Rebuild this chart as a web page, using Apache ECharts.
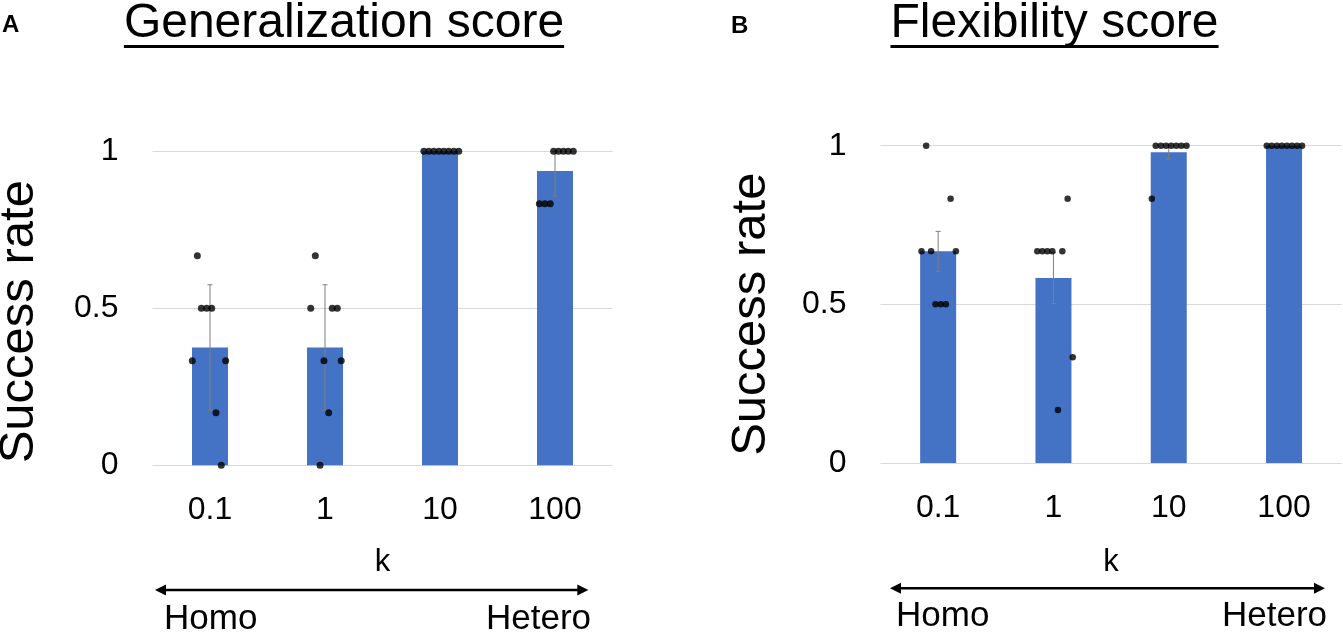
<!DOCTYPE html>
<html>
<head>
<meta charset="utf-8">
<script src="https://cdn.jsdelivr.net/npm/echarts@6/dist/echarts.min.js"></script>
<style>
html, body { margin: 0; padding: 0; background: #fff; }
#main { width: 1343px; height: 635px; }
</style>
</head>
<body>
<div id="main"></div>
<script>
var categories = ['0.1', '1', '10', '100'];

// A: generalization score (bar = mean, whisker = SD)
var genMean = [0.375, 0.375, 1, 0.9375];
var genErr = [0.2, 0.2, 0, 0.08];
var genDots = [
    [0.667, 0.5, 0.5, 0.5, 0.333, 0.333, 0.167, 0],
    [0.667, 0.5, 0.5, 0.5, 0.333, 0.333, 0.167, 0],
    [1, 1, 1, 1, 1, 1, 1, 1],
    [1, 1, 1, 1, 1, 0.833, 0.833, 0.833]
];
// horizontal spread of the dots, in category units
var genJitter = [
    [-0.110, -0.075, -0.029, 0.015, -0.154, 0.136, 0.052, 0.098],
    [-0.084, -0.124, 0.063, 0.107, -0.009, 0.141, 0.032, -0.043],
    [-0.140, -0.097, -0.054, -0.010, 0.033, 0.076, 0.120, 0.163],
    [-0.012, 0.030, 0.073, 0.115, 0.159, -0.136, -0.088, -0.041]
];

// B: flexibility score (bar = mean, whisker = SEM)
var flexMean = [0.667, 0.583, 0.979, 1];
var flexErr = [0.063, 0.08, 0.021, 0];
var flexDots = [
    [1, 0.833, 0.667, 0.667, 0.667, 0.5, 0.5, 0.5],
    [0.833, 0.667, 0.667, 0.667, 0.667, 0.667, 0.333, 0.167],
    [0.833, 1, 1, 1, 1, 1, 1, 1],
    [1, 1, 1, 1, 1, 1, 1, 1]
];
var flexJitter = [
    [-0.104, 0.108, -0.144, -0.061, 0.154, -0.023, 0.023, 0.067],
    [0.123, -0.140, -0.096, -0.053, -0.010, 0.077, 0.167, 0.039],
    [-0.147, -0.113, -0.068, -0.024, 0.021, 0.065, 0.109, 0.154],
    [-0.150, -0.107, -0.062, -0.019, 0.025, 0.069, 0.113, 0.156]
];

var FONT = '"Liberation Sans", Arial, sans-serif';
var BLUE = '#4472C4';

function dotPoints(dots, jitter) {
    var pts = [];
    dots.forEach(function (vals, i) {
        vals.forEach(function (v, j) {
            pts.push([i + 0.5 + jitter[i][j], v]);
        });
    });
    return pts;
}

function errPoints(mean, err) {
    return mean.map(function (m, i) {
        return [i + 0.5, m - err[i], Math.min(1, m + err[i])];
    });
}

function renderErr(params, api) {
    var x = api.value(0), lo = api.value(1), hi = api.value(2);
    if (hi - lo <= 0) return;
    var top = api.coord([x, hi]);
    var bot = api.coord([x, lo]);
    var cap = 2.5;
    var st = { stroke: '#7f7f7f', lineWidth: 1 };
    return {
        type: 'group',
        children: [
            { type: 'line', shape: { x1: top[0], y1: top[1], x2: bot[0], y2: bot[1] }, style: st },
            { type: 'line', shape: { x1: top[0] - cap, y1: top[1], x2: top[0] + cap, y2: top[1] }, style: st },
            { type: 'line', shape: { x1: bot[0] - cap, y1: bot[1], x2: bot[0] + cap, y2: bot[1] }, style: st }
        ]
    };
}

function textWidth(str, font) {
    var ctx = document.createElement('canvas').getContext('2d');
    ctx.font = font;
    return ctx.measureText(str).width;
}

function catAxis(gi, gap) {
    return {
        type: 'category',
        gridIndex: gi,
        data: categories,
        axisLine: { show: false },
        axisTick: { show: false },
        axisLabel: { color: '#000', fontSize: 32, fontFamily: FONT, margin: 29 },
        name: 'k',
        nameLocation: 'middle',
        nameGap: gap,
        nameTextStyle: { color: '#000', fontSize: 31, fontFamily: FONT }
    };
}

function posAxis(gi) {
    return { type: 'value', gridIndex: gi, min: 0, max: 4, show: false };
}

function valAxis(gi) {
    return {
        type: 'value',
        gridIndex: gi,
        min: 0,
        max: 1,
        interval: 0.5,
        axisLine: { show: false },
        axisTick: { show: false },
        axisLabel: { color: '#000', fontSize: 32, fontFamily: FONT, margin: 34 },
        splitLine: { lineStyle: { color: '#d9d9d9', width: 1 } }
    };
}

function panelSeries(k, mean, err, dots, jitter, dotSize) {
    return [
        {
            type: 'bar',
            xAxisIndex: 2 * k,
            yAxisIndex: k,
            data: mean,
            barWidth: 36,
            itemStyle: { color: BLUE },
            silent: true
        },
        {
            type: 'custom',
            xAxisIndex: 2 * k + 1,
            yAxisIndex: k,
            data: errPoints(mean, err),
            encode: { x: 0, y: [1, 2] },
            renderItem: renderErr,
            z: 3,
            silent: true
        },
        {
            type: 'scatter',
            xAxisIndex: 2 * k + 1,
            yAxisIndex: k,
            data: dotPoints(dots, jitter),
            symbolSize: dotSize,
            itemStyle: { color: '#000' },
            z: 4,
            silent: true
        }
    ];
}

function title(str, cx) {
    var font = '48px ' + FONT;
    var w = textWidth(str, font);
    return [
        {
            type: 'text', x: cx, y: 24,
            style: { text: str, font: font, fill: '#000', textAlign: 'center', textVerticalAlign: 'middle' }
        },
        {
            type: 'rect',
            shape: { x: cx - w / 2, y: 45, width: w, height: 3 },
            style: { fill: '#000' }
        }
    ];
}

function arrow(x1, x2, y) {
    return [
        { type: 'line', shape: { x1: x1 + 8, y1: y, x2: x2 - 8, y2: y }, style: { stroke: '#000', lineWidth: 2.5 } },
        { type: 'polygon', shape: { points: [[x1, y], [x1 + 11, y - 5.5], [x1 + 11, y + 5.5]] }, style: { fill: '#000' } },
        { type: 'polygon', shape: { points: [[x2, y], [x2 - 11, y - 5.5], [x2 - 11, y + 5.5]] }, style: { fill: '#000' } }
    ];
}

function label(str, x, y, align, size, weight, rot) {
    return {
        type: 'text', x: x, y: y, rotation: rot || 0,
        style: {
            text: str,
            font: (weight || 'normal') + ' ' + size + 'px ' + FONT,
            fill: '#000',
            textAlign: align,
            textVerticalAlign: 'middle'
        }
    };
}

var chart = echarts.init(document.getElementById('main'), null, { renderer: 'canvas' });

var graphics = []
    .concat(title('Generalization score', 344))
    .concat(title('Flexibility score', 1054.5))
    .concat(arrow(155, 588.3, 590))
    .concat(arrow(890, 1325, 588.3))
    .concat([
        label('A', 2, 25, 'left', 24, 'bold'),
        label('B', 731, 26, 'left', 24, 'bold'),
        label('Success rate', 19, 321.7, 'center', 49, 'normal', Math.PI / 2),
        label('Success rate', 751.7, 314.2, 'center', 49, 'normal', Math.PI / 2),
        label('Homo', 164, 619, 'left', 35),
        label('Hetero', 591, 619, 'right', 35),
        label('Homo', 896, 616, 'left', 35),
        label('Hetero', 1327, 616, 'right', 35)
    ]);

var option = {
    animation: false,
    backgroundColor: '#fff',
    grid: [
        { left: 152.5, top: 151.3, width: 460, height: 314 },
        { left: 880.5, top: 145.7, width: 461.2, height: 317.3 }
    ],
    xAxis: [catAxis(0, 82), posAxis(0), catAxis(1, 84), posAxis(1)],
    yAxis: [valAxis(0), valAxis(1)],
    series: []
        .concat(panelSeries(0, genMean, genErr, genDots, genJitter, 7))
        .concat(panelSeries(1, flexMean, flexErr, flexDots, flexJitter, 6.5)),
    graphic: graphics
};

chart.setOption(option);
</script>
</body>
</html>
